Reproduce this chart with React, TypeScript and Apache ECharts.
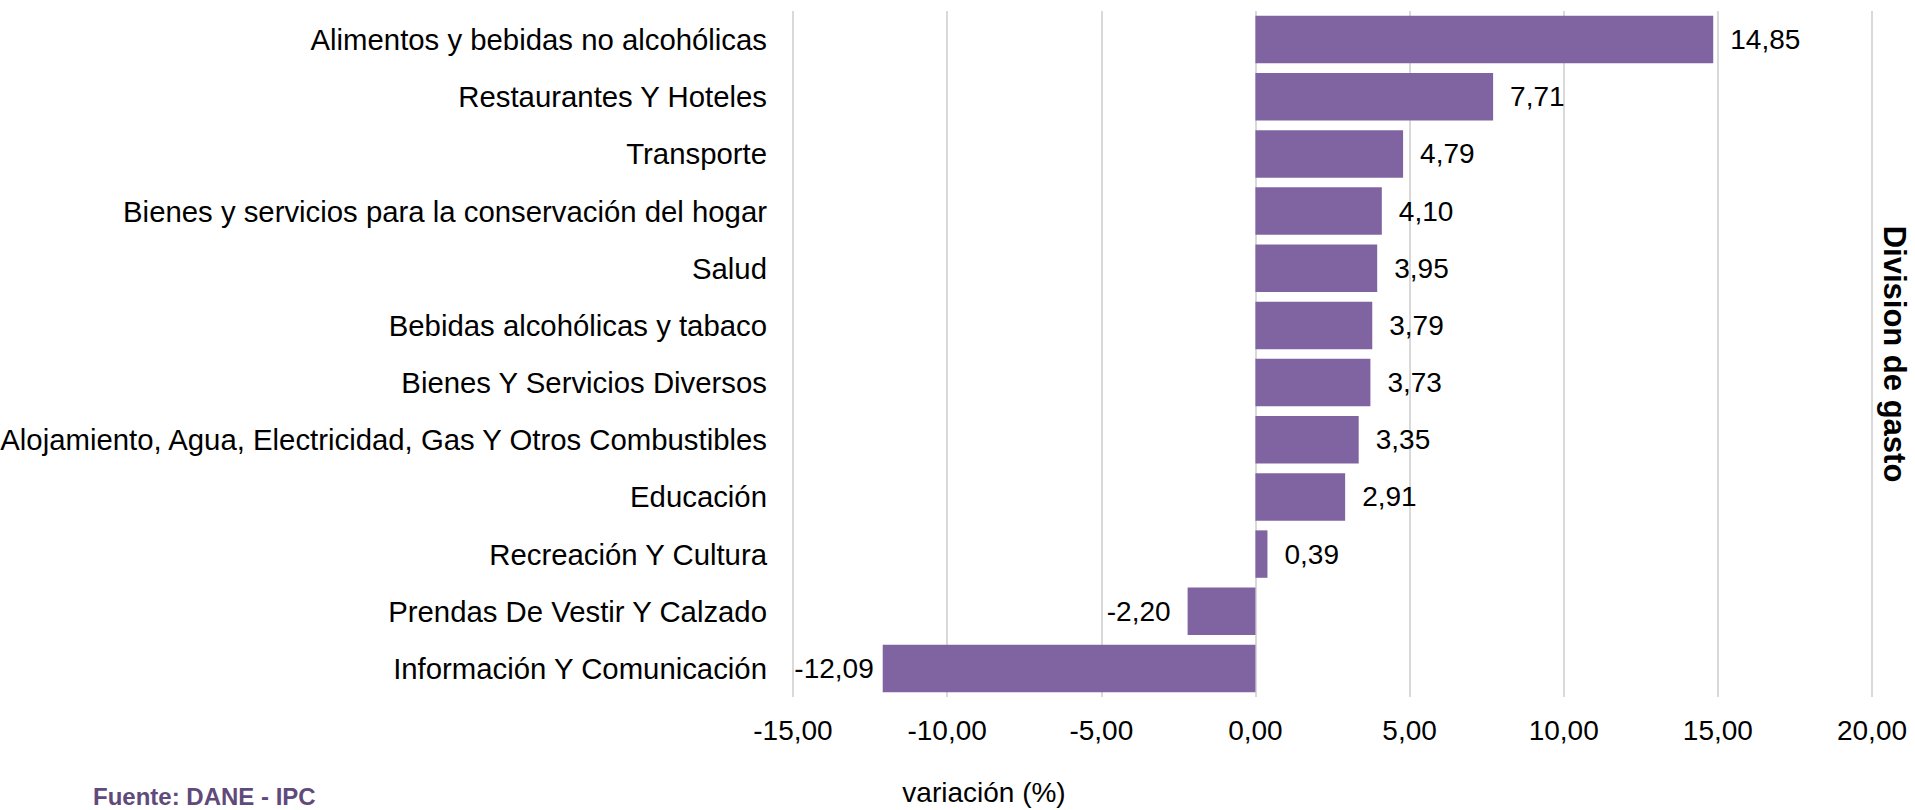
import React, { useEffect, useRef } from "react";
import * as echarts from "echarts";

const categories: string[] = [
  "Alimentos y bebidas no alcohólicas",
  "Restaurantes Y Hoteles",
  "Transporte",
  "Bienes y servicios para la conservación del hogar",
  "Salud",
  "Bebidas alcohólicas y tabaco",
  "Bienes Y Servicios Diversos",
  "Alojamiento, Agua, Electricidad, Gas Y Otros Combustibles",
  "Educación",
  "Recreación Y Cultura",
  "Prendas De Vestir Y Calzado",
  "Información Y Comunicación",
];

const values: number[] = [14.85, 7.71, 4.79, 4.1, 3.95, 3.79, 3.73, 3.35, 2.91, 0.39, -2.2, -12.09];

const xMin = -15;
const xMax = 20;
const xInterval = 5;

const xAxisName = "variación (%)";
const yAxisName = "Division de gasto";
const sourceText = "Fuente: DANE - IPC";

const FONT = "'Liberation Sans', Arial, sans-serif";
const fmt = (v: number) => v.toFixed(2).replace(".", ",");

export default function App() {
  const ref = useRef<HTMLDivElement>(null);
  useEffect(() => {
    if (!ref.current) return;
    const chart = echarts.init(ref.current, undefined, { renderer: "svg" });
    const gridLeft = 793;
    const gridRight = 43;
    const gridTop = 11;
    const gridHeight = 686;
    chart.setOption({
      animation: false,
      backgroundColor: "#ffffff",
      textStyle: { fontFamily: FONT },
      grid: {
        left: gridLeft,
        right: gridRight,
        top: gridTop,
        height: gridHeight,
        containLabel: false,
        outerBoundsMode: "none",
      },
      xAxis: {
        type: "value",
        min: xMin,
        max: xMax,
        interval: xInterval,
        axisLine: { show: false },
        axisTick: { show: false },
        splitLine: { show: true, lineStyle: { color: "#d9d9d9", width: 2 } },
        axisLabel: {
          formatter: (v: number) => fmt(v),
          color: "#000",
          fontSize: 28,
          fontFamily: FONT,
          margin: 19,
        },
      },
      yAxis: {
        type: "category",
        data: categories,
        inverse: true,
        axisLine: { show: false },
        axisTick: { show: false },
        splitLine: { show: false },
        axisLabel: { color: "#000", fontSize: 29.33, fontFamily: FONT, margin: 26 },
      },
      series: [
        {
          type: "bar",
          barCategoryGap: "17%",
          itemStyle: { color: "#8064A2" },
          data: values.map((v) => ({
            value: v,
            label: {
              show: true,
              position: v < 0 ? "left" : "right",
              distance: v < -10 ? 9 : 17,
              formatter: () => fmt(v),
              color: "#000",
              fontSize: 28,
              fontFamily: FONT,
            },
          })),
        },
      ],
      graphic: [
        {
          type: "text",
          x: 984,
          y: 792,
          style: {
            text: xAxisName,
            fontSize: 28,
            fontFamily: FONT,
            fill: "#000",
            align: "center",
            verticalAlign: "middle",
          },
        },
        {
          type: "text",
          x: 1894,
          y: gridTop + gridHeight / 2,
          rotation: -Math.PI / 2,
          style: {
            text: yAxisName,
            fontSize: 31,
            fontWeight: "bold",
            fontFamily: FONT,
            fill: "#000",
            align: "center",
            verticalAlign: "middle",
          },
        },
        {
          type: "text",
          x: 93,
          y: 808,
          style: {
            text: sourceText,
            fontSize: 24,
            fontWeight: "bold",
            fontFamily: FONT,
            fill: "#604A7B",
            align: "left",
            verticalAlign: "bottom",
          },
        },
      ],
    });
    return () => chart.dispose();
  }, []);
  return (
    <div
      ref={ref}
      style={{ position: "fixed", left: 0, top: 0, width: 1915, height: 810, background: "#fff", overflow: "hidden" }}
    />
  );
}
